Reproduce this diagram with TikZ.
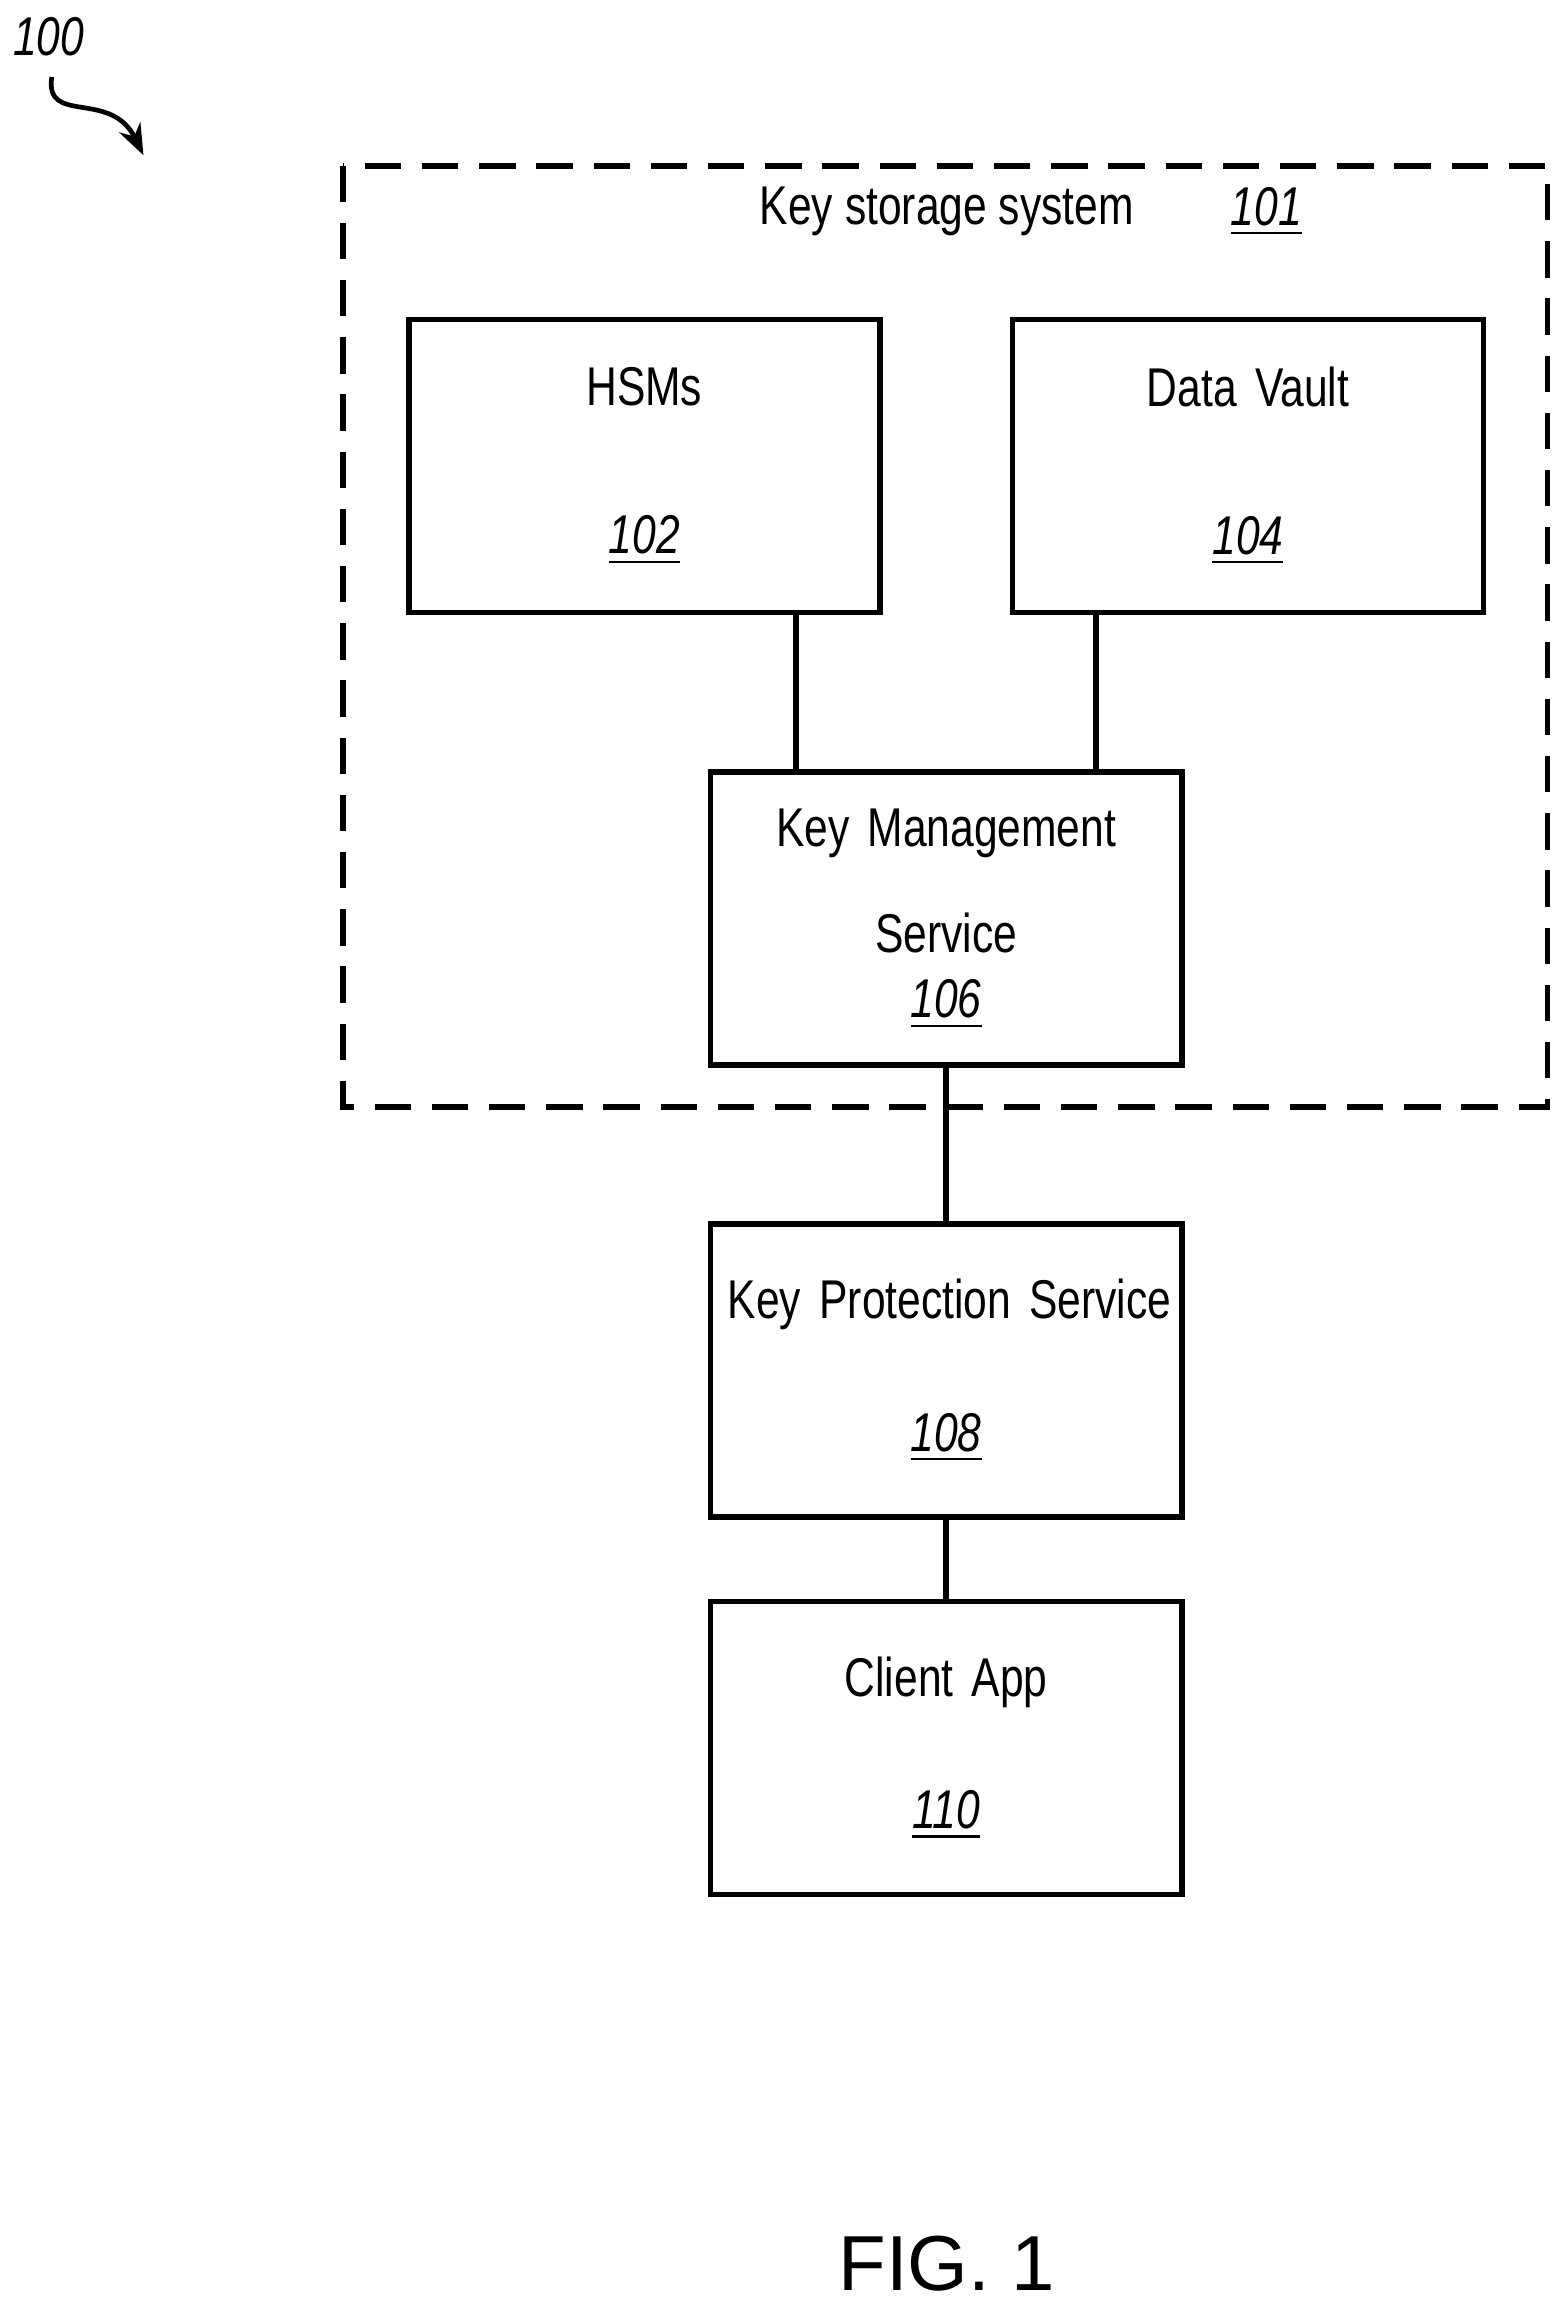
\documentclass[tikz,border=0pt]{standalone}
\usepackage{fontspec}
\setmainfont{Liberation Sans}[FakeStretch=0.78]
\newfontfamily\figfont{Liberation Sans}
\usetikzlibrary{positioning, arrows.meta}
\newcommand{\refnum}[1]{\underline{\textit{#1}}}
\tikzset{
  blk/.style={rectangle, draw=black, line width=1.1pt, minimum width=3.0cm, minimum height=1.98cm, text width=2.95cm, align=center, font=\fontsize{10.5}{12.5}\selectfont},
  link/.style={line width=1.1pt}
}
\begin{document}
\begin{tikzpicture}[x=0.1mm, y=-0.1mm]
    \useasboundingbox (0,0) rectangle (1057,1560);
    \draw[dash pattern=on 7pt off 4pt, line width=1.1pt] (232,112) rectangle (1046,748);
    \node at (640,143) (kss) {\fontsize{10.5}{13}\selectfont Key storage system};
    \node at (856,143) (n101) {\fontsize{10.5}{13}\selectfont\refnum{101}};

    \node at (435.5,315) [blk] (hsm) {\vspace{14pt}HSMs\\[2pt]\refnum{102}};
    \node at (843.5,315) [blk] (vault) {\vspace{14pt}Data Vault\\[2pt]\refnum{104}};
    \node at (639.5,621) [blk] (kms) {\vspace{8pt}Key Management\\Service\\\refnum{106}};
    \node at (639.5,926.5) [blk] (kps) {\vspace{6pt}\mbox{Key Protection Service}\\[7pt]\refnum{108}};
    \node at (639.5,1181.5) [blk] (client) {\vspace{6pt}Client App\\[7pt]\refnum{110}};

    \draw[link] (hsm.south -| 538,0) -- (kms.north -| 538,0);
    \draw[link] (vault.south -| 741,0) -- (kms.north -| 741,0);
    \draw[link] (kms) -- (kps);
    \draw[link] (kps) -- (client);

    % figure label and reference arrow
    \node at (33,25) (n100) {\fontsize{10.5}{13}\selectfont\textit{100}};
    \coordinate (tip) at (97,105);
    \draw[line width=0.9pt, -{Stealth[length=6pt]}] (35,52) .. controls (30,85) and (75,60) .. (tip);
    \node at (640,1530) (fig) {\figfont\fontsize{15}{18}\selectfont FIG. 1};
\end{tikzpicture}
\end{document}
